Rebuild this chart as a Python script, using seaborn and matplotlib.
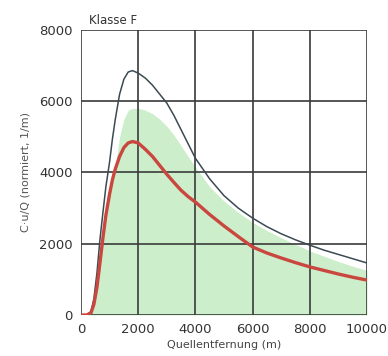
import numpy as np
import pandas as pd
import matplotlib
matplotlib.use("Agg")
import matplotlib.pyplot as plt
import seaborn as sns

# distances (m)
dist = [0, 200, 350, 450, 560, 660, 770, 870, 1000, 1100, 1200, 1350, 1500, 1650, 1800, 2000,
        2250, 2500, 2750, 3000, 3250, 3500, 3750, 4000, 4500, 5000, 5500, 6000, 6500, 7000,
        7500, 8000, 8500, 9000, 9500, 10000]
# upper (thin dark) curve
upper = [0, 0, 100, 450, 1200, 2100, 2900, 3600, 4300, 4950, 5500, 6200, 6620, 6820, 6860, 6790,
         6650, 6450, 6200, 5950, 5600, 5200, 4800, 4400, 3820, 3350, 3000, 2720, 2480, 2280,
         2110, 1960, 1820, 1700, 1580, 1460]
# red curve
lower = [0, 0, 60, 300, 790, 1450, 2190, 2800, 3400, 3800, 4100, 4450, 4700, 4830, 4870, 4830,
         4650, 4450, 4200, 3950, 3720, 3500, 3320, 3170, 2820, 2500, 2200, 1910, 1740, 1600,
         1470, 1350, 1250, 1150, 1060, 980]
# green band top
band = [0, 0, 60, 300, 790, 1450, 2190, 2800, 3400, 3800, 4200, 5000, 5500, 5750, 5800, 5800,
        5750, 5650, 5500, 5300, 5050, 4750, 4450, 4150, 3600, 3200, 2880, 2600, 2370, 2170,
        1980, 1800, 1650, 1500, 1370, 1250]

xticks = [0, 2000, 4000, 6000, 8000, 10000]
yticks = [0, 2000, 4000, 6000, 8000]
title = "Klasse F"
xlabel = "Quellentfernung (m)"
ylabel = "C·u/Q (normiert, 1/m)"

sns.set_style("white")
plt.rcParams['font.family'] = ['DejaVu Sans']

fig = plt.figure(figsize=(3.88, 3.56), dpi=100)
ax = fig.add_axes([81/388, 41/356, 286/388, 285/356])

df = pd.DataFrame({"dist": dist, "upper": upper, "lower": lower, "band": band})

ax.fill_between(df["dist"], 0, df["band"], color="#cdeecb", lw=0, zorder=1)
for xt in xticks:
    ax.axvline(xt, color="#3a3a3a", lw=1.2, zorder=2)
for yt in yticks:
    ax.axhline(yt, color="#3a3a3a", lw=1.2, zorder=2)

sns.lineplot(data=df, x="dist", y="upper", ax=ax, color="#3c4a52", lw=1.1, zorder=3)
sns.lineplot(data=df, x="dist", y="lower", ax=ax, color="#c9473e", lw=2.4, zorder=4)

ax.set_xlim(0, 10000)
ax.set_ylim(0, 8000)
ax.set_xticks(xticks)
ax.set_yticks(yticks)
ax.set_xticklabels([str(v) for v in xticks], fontsize=9.5, color="#333333")
ax.set_yticklabels([str(v) for v in yticks], fontsize=9.5, color="#333333")
ax.tick_params(axis="both", length=4, width=1.2, color="#3a3a3a", direction="out", pad=2)
for s in ax.spines.values():
    s.set_visible(False)
ax.set_xlabel(xlabel, fontsize=8, color="#444444", labelpad=3)
ax.set_ylabel(ylabel, fontsize=8, color="#555555", labelpad=6)
fig.text(89/388, 1 - 21/356, title, fontsize=8.5, color="#333333", ha="left", va="center")

fig.savefig("out.png", dpi=100)
